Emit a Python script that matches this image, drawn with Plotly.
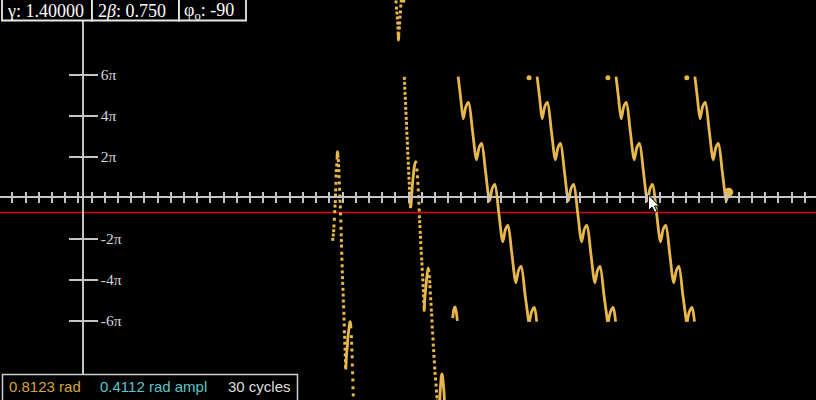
import plotly.graph_objects as go

# ---------------- data (time in drive cycles, angle in units of pi) ----------------
# dense (solid-looking) parts of the trajectory, None = break / wrap
curve_t = [
    19.25, 19.27, 19.29, 19.31, 19.33, None,
    19.92, 19.95, 19.98, 20.03, 20.06, 20.11, 20.16, 20.20, 20.23, 20.27, 20.31, None,
    23.87, 23.89, 23.90, 23.92, 23.94, None,
    24.83, 24.85, 24.89, 24.93, 24.98, 25.03, 25.08, 25.13, 25.18, 25.21, 25.25, None,
    25.84, 25.86, 25.89, 25.94, 25.99, 26.04, 26.09, 26.14, 26.16, 26.22, None,
    27.03, 27.06, 27.10, 27.14, 27.18, 27.22, 27.27, 27.31, 27.35, 27.39, None,
    28.01, 28.10, 28.18, 28.27, 28.36, None,
    28.42, 28.61, 28.81, 29.01, 29.21, 29.51, 29.81, 30.01, 30.20, 30.50, 30.80, 31.00,
    31.20, 31.50, 31.80, 32.00, 32.19, 32.49, 32.79, 32.99, 33.19, 33.49, 33.76, None,
    33.82, 33.99, 34.19, 34.37, None,
    34.40, 34.59, 34.78, 34.98, 35.18, 35.48, 35.78, 35.98, 36.17, 36.47, 36.77, 36.97,
    37.17, 37.47, 37.77, 37.97, 38.17, 38.47, 38.77, 38.97, 39.16, 39.46, 39.73, None,
    39.79, 39.96, 40.16, 40.34, None,
    40.37, 40.56, 40.76, 40.96, 41.15, 41.45, 41.75, 41.95, 42.15, 42.45, 42.75, 42.95,
    43.14, 43.44, 43.74, 43.94, 44.14, 44.44, 44.74, 44.94, 45.13, 45.43, 45.70, None,
    45.76, 45.93, 46.13, 46.31, None,
    46.34, 46.53, 46.73, 46.93, 47.13, 47.43, 47.73, 47.93, 48.12, 48.42, 48.72, 48.83, 48.90,
]
curve_a = [
    1.85, 2.18, 2.24, 2.17, 1.95, None,
    -8.39, -7.93, -7.60, -7.28, -6.95, -6.62, -6.37, -6.17, -6.06, -6.12, -6.38, None,
    8.10, 7.83, 7.68, 7.78, 8.05, None,
    -0.46, -0.41, -0.02, 0.37, 0.76, 1.10, 1.39, 1.59, 1.71, 1.75, 1.68, None,
    -5.57, -5.39, -5.00, -4.61, -4.27, -3.93, -3.68, -3.50, -3.45, -3.63, None,
    -9.93, -9.49, -9.10, -8.76, -8.61, -8.66, -8.90, -9.20, -9.49, -9.98, None,
    -5.88, -5.45, -5.34, -5.55, -6.02, None,
    5.90, 4.87, 3.84, 4.44, 4.64, 3.24, 1.84, 2.44, 2.64, 1.24, -0.16, 0.44,
    0.64, -0.76, -2.16, -1.56, -1.36, -2.76, -4.16, -3.56, -3.36, -4.76, -6.06, None,
    -6.06, -5.56, -5.36, -6.06, None,
    5.90, 4.87, 3.84, 4.44, 4.64, 3.24, 1.84, 2.44, 2.64, 1.24, -0.16, 0.44,
    0.64, -0.76, -2.16, -1.56, -1.36, -2.76, -4.16, -3.56, -3.36, -4.76, -6.06, None,
    -6.06, -5.56, -5.36, -6.06, None,
    5.90, 4.87, 3.84, 4.44, 4.64, 3.24, 1.84, 2.44, 2.64, 1.24, -0.16, 0.44,
    0.64, -0.76, -2.16, -1.56, -1.36, -2.76, -4.16, -3.56, -3.36, -4.76, -6.06, None,
    -6.06, -5.56, -5.36, -6.06, None,
    5.90, 4.87, 3.84, 4.44, 4.64, 3.24, 1.84, 2.44, 2.64, 1.24, -0.16, 0.12, 0.26,
]

# sparse sampled points (fast rotation during the transient)
sample_t = [
    18.93, 18.97, 19.00, 19.02, 19.05, 19.08, 19.10, 19.12, 19.13, 19.15, 19.17, 19.18, 19.20, 19.23,
    19.35, 19.37, 19.39, 19.40, 19.42, 19.45, 19.47, 19.48, 19.50, 19.52, 19.54, 19.55, 19.57, 19.58,
    19.59, 19.61, 19.62, 19.64, 19.65, 19.67, 19.68, 19.70, 19.72, 19.73, 19.75, 19.77, 19.78, 19.80,
    19.81, 19.83, 19.84, 19.86, 19.87, 19.89, 19.90,
    20.34, 20.36, 20.38, 20.40, 20.41, 20.43, 20.45, 20.46, 20.48,
    23.72, 23.75, 23.79, 23.82, 23.85, 23.87,
    23.97, 23.99, 24.02, 24.05, 24.08, 24.11, 24.30,
    24.35, 24.37, 24.38, 24.40, 24.42, 24.44, 24.45, 24.47, 24.49, 24.51, 24.52, 24.54, 24.56, 24.58,
    24.59, 24.61, 24.63, 24.65, 24.66, 24.68, 24.70, 24.72, 24.73, 24.75, 24.77, 24.79, 24.81,
    25.30, 25.34, 25.37, 25.40, 25.43, 25.45, 25.47, 25.49, 25.51, 25.53, 25.55, 25.57, 25.59,
    25.61, 25.63, 25.66, 25.68, 25.70, 25.73, 25.75, 25.77, 25.79, 25.81, 25.82, 25.84,
    26.24, 26.27, 26.29, 26.31, 26.34, 26.37, 26.39, 26.42, 26.44, 26.46, 26.49, 26.52,
    26.54, 26.57, 26.59, 26.62, 26.65, 26.67, 26.71, 26.75, 26.78, 26.82, 26.84,
]
sample_a = [
    -2.04, -1.83, -1.62, -1.39, -1.06, -0.69, -0.42, -0.20, 0.12, 0.37, 0.69, 1.05, 1.31, 1.59,
    1.80, 1.55, 1.31, 1.02, 0.71, 0.40, 0.07, -0.18, -0.46, -0.80, -1.15, -1.50, -1.82, -2.10,
    -2.37, -2.72, -3.01, -3.33, -3.63, -3.91, -4.19, -4.48, -4.76, -5.05, -5.33, -5.65, -5.93, -6.22,
    -6.55, -6.82, -7.11, -7.40, -7.68, -7.96, -8.25,
    -6.79, -7.11, -7.44, -7.77, -8.17, -8.55, -8.90, -9.28, -9.63,
    9.54, 9.24, 9.00, 8.76, 8.51, 8.27,
    8.27, 8.51, 8.80, 9.05, 9.34, 9.59, 9.58,
    5.81, 5.57, 5.33, 5.08, 4.84, 4.59, 4.35, 4.11, 3.86, 3.62, 3.38, 3.13, 2.89, 2.65,
    2.40, 2.16, 1.92, 1.67, 1.43, 1.18, 0.94, 0.70, 0.45, 0.21, -0.03, -0.28, -0.45,
    1.34, 1.01, 0.69, 0.37, 0.04, -0.28, -0.61, -0.94, -1.18, -1.42, -1.70, -1.94, -2.20,
    -2.48, -2.72, -3.00, -3.24, -3.50, -3.78, -4.02, -4.30, -4.55, -4.80, -5.08, -5.34,
    -3.86, -4.11, -4.35, -4.66, -4.94, -5.21, -5.49, -5.73, -6.02, -6.32, -6.61, -6.90,
    -7.20, -7.47, -7.75, -8.02, -8.32, -8.58, -8.85, -9.15, -9.44, -9.72, -9.93,
]

# wrapped minima shown at the top of the window
wrap_t = [33.79, 39.76, 45.73]
wrap_a = [5.84, 5.84, 5.84]

# current state of the pendulum
now_t = [48.90]
now_a = [0.26]

red_level = -0.73
y_tick_vals = [-6, -4, -2, 2, 4, 6]
y_tick_text = ["-6π", "-4π", "-2π", "2π", "4π", "6π"]

gamma_txt = "γ: 1.40000"
beta_txt = "2<i>β</i>: 0.750"
phi_txt = "φ<sub>o</sub>: -90"
angle_txt = "0.8123 rad"
ampl_txt = "0.4112 rad ampl"
cycles_txt = "30 cycles"

# ---------------- styling ----------------
W, H = 816, 400
GOLD = "#e8b84a"
AX = "#c4c4c4"
X_RANGE = [-6.26, 55.51]
Y_RANGE = [-9.878, 9.634]
x_axis_pos = (0 - Y_RANGE[0]) / (Y_RANGE[1] - Y_RANGE[0])
y_axis_pos = (0 - X_RANGE[0]) / (X_RANGE[1] - X_RANGE[0])


def px(x):
    return x / W


def py(y):
    return 1 - y / H


fig = go.Figure()
fig.add_trace(go.Scatter(x=curve_t, y=curve_a, mode="lines",
                         line=dict(color=GOLD, width=2.8, shape="spline", smoothing=0.8),
                         connectgaps=False, hoverinfo="skip"))
fig.add_trace(go.Scatter(x=sample_t, y=sample_a, mode="markers",
                         marker=dict(color=GOLD, size=3, symbol="square"), hoverinfo="skip"))
fig.add_trace(go.Scatter(x=wrap_t, y=wrap_a, mode="markers", yaxis="y2",
                         marker=dict(color=GOLD, size=5), hoverinfo="skip"))
fig.add_trace(go.Scatter(x=now_t, y=now_a, mode="markers", xaxis="x2",
                         marker=dict(color=GOLD, size=9), hoverinfo="skip"))

axis_common = dict(showgrid=False, zeroline=False)
fig.update_layout(
    width=W, height=H, margin=dict(l=0, r=0, t=0, b=0),
    paper_bgcolor="black", plot_bgcolor="black", showlegend=False,
    xaxis=dict(range=X_RANGE, anchor="free", position=x_axis_pos, showline=True,
               linecolor=AX, linewidth=2, ticks="outside", ticklen=5, tickwidth=1.5,
               tickcolor=AX, tick0=0.67, dtick=1, showticklabels=False, **axis_common),
    xaxis2=dict(overlaying="x", matches="x", anchor="free", position=x_axis_pos,
                showline=False, ticks="inside", ticklen=5, tickwidth=1.5, tickcolor=AX,
                tick0=0.67, dtick=1, showticklabels=False, **axis_common),
    yaxis=dict(range=Y_RANGE, anchor="free", position=y_axis_pos, side="right",
               showline=True, linecolor=AX, linewidth=2, ticks="outside", ticklen=14,
               tickwidth=1.5, tickcolor=AX, tickvals=y_tick_vals, ticktext=y_tick_text,
               tickfont=dict(family="Liberation Serif", size=15.5, color="#d6d6d6"),
               **axis_common),
    yaxis2=dict(overlaying="y", matches="y", anchor="free", position=y_axis_pos, side="left",
                showline=False, ticks="outside", ticklen=14, tickwidth=1.5, tickcolor=AX,
                tickvals=y_tick_vals, showticklabels=False, **axis_common),
)

shapes = [
    dict(type="line", xref="paper", x0=0, x1=1, yref="y", y0=red_level, y1=red_level,
         line=dict(color="#e00000", width=1.5), layer="below"),
]
# top parameter cells
for a, b in [(2, 92), (92, 179), (179, 246)]:
    shapes.append(dict(type="rect", xref="paper", yref="paper", x0=px(a), x1=px(b),
                       y0=py(20.5), y1=py(-2), fillcolor="black",
                       line=dict(color="#e8e8e8", width=1.8), layer="above"))
# bottom readout box
shapes.append(dict(type="rect", xref="paper", yref="paper", x0=px(2.5), x1=px(297.5),
                   y0=py(403), y1=py(374.5), fillcolor="black",
                   line=dict(color="#cfcfcf", width=1.5), layer="above"))
# mouse pointer
cur = [(0, 0), (0, 15.5), (3.6, 12), (6.2, 17.5), (8.6, 16.4), (6.1, 11), (10.8, 11)]
tip_x, tip_y = 648.5, 195
path = "M " + " L ".join(f"{px(tip_x + dx)},{py(tip_y + dy)}" for dx, dy in cur) + " Z"
shapes.append(dict(type="path", xref="paper", yref="paper", path=path,
                   fillcolor="white", line=dict(color="black", width=1), layer="above"))
fig.update_layout(shapes=shapes)

serif = dict(family="Liberation Serif", size=18, color="white")
ann = [
    dict(text=gamma_txt, x=px(5), y=py(11), font=serif),
    dict(text=beta_txt, x=px(96), y=py(11), font=serif),
    dict(text=phi_txt, x=px(182), y=py(11.5), font=serif),
    dict(text=angle_txt, x=px(7), y=py(386.5),
         font=dict(family="Liberation Sans", size=15, color="#d4a640")),
    dict(text=ampl_txt, x=px(98), y=py(386.5),
         font=dict(family="Liberation Sans", size=15, color="#5cc6c8")),
    dict(text=cycles_txt, x=px(226), y=py(386.5),
         font=dict(family="Liberation Sans", size=15, color="#dedede")),
]
for a_ in ann:
    a_.update(xref="paper", yref="paper", xanchor="left", yanchor="middle",
              showarrow=False)
fig.update_layout(annotations=ann)

fig.write_html("out.html")
